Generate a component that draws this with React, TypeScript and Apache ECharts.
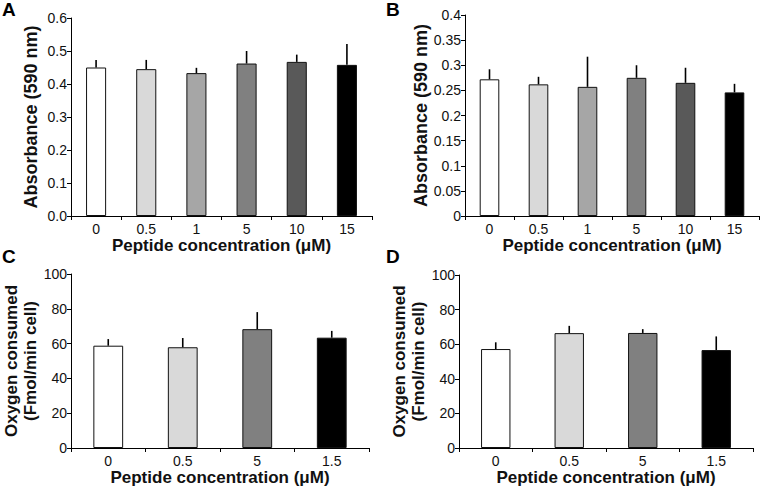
import React, { useEffect, useRef } from "react";
import * as echarts from "echarts";

const catsAB = ["0", "0.5", "1", "5", "10", "15"];
const catsCD = ["0", "0.5", "5", "1.5"];
const colorsAB = ["#ffffff", "#d9d9d9", "#a6a6a6", "#808080", "#595959", "#000000"];
const colorsCD = ["#ffffff", "#d9d9d9", "#808080", "#000000"];

const meanA = [0.45, 0.445, 0.433, 0.462, 0.467, 0.458];
const errA = [0.023, 0.028, 0.016, 0.038, 0.022, 0.063];
const meanB = [0.272, 0.262, 0.257, 0.275, 0.265, 0.246];
const errB = [0.02, 0.015, 0.06, 0.025, 0.03, 0.017];
const meanC = [58.8, 57.9, 68.3, 63.4];
const errC = [3.8, 5.3, 9.8, 3.9];
const meanD = [57.2, 66.4, 66.5, 56.6];
const errD = [3.9, 4.2, 2.2, 7.9];

const FONT = "Liberation Sans, Arial, sans-serif";

export default function App() {
  const ref = useRef<HTMLDivElement>(null);
  useEffect(() => {
    const chart = echarts.init(ref.current!, null, { renderer: "svg" });
    const grids = [
      { left: 71, top: 18, width: 301, height: 198 },
      { left: 465, top: 15, width: 294, height: 201 },
      { left: 71, top: 274, width: 298, height: 176 },
      { left: 459, top: 275, width: 294, height: 176 },
    ];
    const panels = [
      { cats: catsAB, colors: colorsAB, mean: meanA, err: errA, min: 0, max: 0.6, interval: 0.1, fmt: (v: number) => v.toFixed(1), name: "Absorbance (590 nm)", gap: 32, nfs: 18, lh: 17 },
      { cats: catsAB, colors: colorsAB, mean: meanB, err: errB, min: 0, max: 0.4, interval: 0.05, fmt: (v: number) => String(Math.round(v * 100) / 100), name: "Absorbance (590 nm)", gap: 35, nfs: 18, lh: 17 },
      { cats: catsCD, colors: colorsCD, mean: meanC, err: errC, min: 0, max: 100, interval: 20, fmt: (v: number) => String(v), name: "Oxygen consumed\n(Fmol/min cell)", gap: 27, nfs: 17, lh: 19 },
      { cats: catsCD, colors: colorsCD, mean: meanD, err: errD, min: 0, max: 100, interval: 20, fmt: (v: number) => String(v), name: "Oxygen consumed\n(Fmol/min cell)", gap: 27, nfs: 17, lh: 19 },
    ];
    const axisLine = { lineStyle: { color: "#000", width: 1 } };
    const xAxis = panels.map((p, i) => ({
      type: "category",
      gridIndex: i,
      data: p.cats,
      axisLine,
      axisTick: { show: true, length: 4, lineStyle: { color: "#000" } },
      axisLabel: { color: "#111", fontSize: 14, fontFamily: FONT, margin: 6 },
      name: "Peptide concentration (μM)",
      nameLocation: "middle",
      nameGap: 21,
      nameTextStyle: { color: "#111", fontSize: 17, fontWeight: "bold", fontFamily: FONT, verticalAlign: "top" },
    }));
    const yAxis = panels.map((p, i) => ({
      type: "value",
      gridIndex: i,
      min: p.min,
      max: p.max,
      interval: p.interval,
      splitLine: { show: false },
      axisLine: { show: true, ...axisLine },
      axisTick: { show: true, length: 4, lineStyle: { color: "#000" } },
      axisLabel: { color: "#111", fontSize: 14, fontFamily: FONT, margin: 4, formatter: p.fmt },
      name: p.name,
      nameLocation: "middle",
      nameGap: p.gap,
      nameTextStyle: { color: "#111", fontSize: p.nfs, fontWeight: "bold", fontFamily: FONT, lineHeight: p.lh },
    }));
    const series: any[] = [];
    panels.forEach((p, i) => {
      series.push({
        type: "bar",
        xAxisIndex: i,
        yAxisIndex: i,
        barWidth: "40%",
        data: p.mean.map((v, j) => ({
          value: v,
          itemStyle: { color: p.colors[j], borderColor: "#111", borderWidth: 1 },
        })),
      });
      series.push({
        type: "custom",
        xAxisIndex: i,
        yAxisIndex: i,
        z: 3,
        data: p.mean.map((v, j) => [j, v, v + p.err[j]]),
        renderItem: (params: any, api: any) => {
          const a = api.coord([api.value(0), api.value(1)]);
          const b = api.coord([api.value(0), api.value(2)]);
          return {
            type: "line",
            shape: { x1: a[0], y1: a[1], x2: b[0], y2: b[1] },
            style: { stroke: "#000", lineWidth: 1.6 },
          };
        },
      });
    });
    const letters = [
      { t: "A", x: 2, y: 0 },
      { t: "B", x: 386, y: 0 },
      { t: "C", x: 2, y: 247 },
      { t: "D", x: 386, y: 247 },
    ];
    chart.setOption({
      animation: false,
      backgroundColor: "#fff",
      grid: grids,
      xAxis,
      yAxis,
      series,
      graphic: letters.map((l) => ({
        type: "text",
        left: l.x,
        top: l.y,
        style: { text: l.t, fontSize: 19, fontWeight: "bold", fontFamily: FONT, fill: "#000" },
      })),
    });
    return () => chart.dispose();
  }, []);
  return <div ref={ref} style={{ width: 760, height: 487, position: "absolute", left: 0, top: 0 }} />;
}
